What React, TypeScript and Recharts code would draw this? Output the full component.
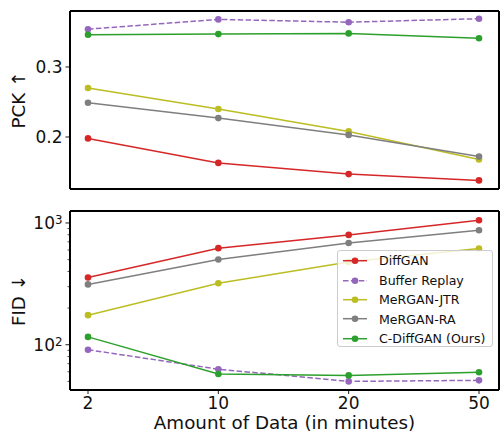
import React from 'react';
import { LineChart, Line, XAxis, YAxis, Legend } from 'recharts';

const minutes = ['2', '10', '20', '50'];

// PCK (top panel)
const pckDiffGAN = [0.198, 0.163, 0.147, 0.138];
const pckBuffer = [0.354, 0.368, 0.364, 0.369];
const pckJTR = [0.27, 0.24, 0.208, 0.168];
const pckRA = [0.249, 0.227, 0.203, 0.172];
const pckOurs = [0.346, 0.347, 0.348, 0.341];

// FID (bottom panel, log scale)
const fidDiffGAN = [357, 621, 798, 1052];
const fidBuffer = [91, 63, 50, 51];
const fidJTR = [175, 320, 478, 617];
const fidRA = [313, 501, 685, 872];
const fidOurs = [116, 57.5, 56, 59.4];

const pckTicks = [0.2, 0.3];
const fidMajorTicks = [100, 1000];
const fidMinorTicks = [50, 60, 70, 80, 90, 200, 300, 400, 500, 600, 700, 800, 900];

const FONT = '"DejaVu Sans", sans-serif';
const TEXT = '#111';
const TICK_FS = 17;
const LABEL_FS = 18.3;
const frame = { stroke: '#000', strokeWidth: 2 };

const series = [
  { key: 'diffgan', name: 'DiffGAN', color: '#d62728', dash: undefined },
  { key: 'buffer', name: 'Buffer Replay', color: '#9467bd', dash: '5.5 2.4' },
  { key: 'jtr', name: 'MeRGAN-JTR', color: '#bcbd22', dash: undefined },
  { key: 'ra', name: 'MeRGAN-RA', color: '#7f7f7f', dash: undefined },
  { key: 'ours', name: 'C-DiffGAN (Ours)', color: '#2ca02c', dash: undefined },
];

const pckData = minutes.map((m, i) => ({
  minutes: m,
  diffgan: pckDiffGAN[i],
  buffer: pckBuffer[i],
  jtr: pckJTR[i],
  ra: pckRA[i],
  ours: pckOurs[i],
}));

const fidData = minutes.map((m, i) => ({
  minutes: m,
  diffgan: fidDiffGAN[i],
  buffer: fidBuffer[i],
  jtr: fidJTR[i],
  ra: fidRA[i],
  ours: fidOurs[i],
}));

const PckTick = (props: any) => {
  const { x, y, payload } = props;
  return (
    <g>
      <line x1={x - 4.5} x2={x} y1={y} y2={y} stroke="#000" strokeWidth={0.9} />
      <text x={x - 7.5} y={y} dy="0.36em" textAnchor="end" fontSize={TICK_FS} fontFamily={FONT} fill={TEXT}>
        {payload.value.toFixed(1)}
      </text>
    </g>
  );
};

const FidTick = (props: any) => {
  const { x, y, payload } = props;
  const v = payload.value;
  if (!fidMajorTicks.includes(v)) {
    return <line x1={x - 2.5} x2={x} y1={y} y2={y} stroke="#000" strokeWidth={0.7} />;
  }
  const exp = Math.round(Math.log10(v));
  return (
    <g>
      <line x1={x - 4.5} x2={x} y1={y} y2={y} stroke="#000" strokeWidth={0.9} />
      <text x={x - 7.5} y={y} dy="0.36em" textAnchor="end" fontSize={TICK_FS} fontFamily={FONT} fill={TEXT}>
        10
        <tspan dy="-0.45em" fontSize={11.8}>{exp}</tspan>
      </text>
    </g>
  );
};

const YTitle = (props: any) => {
  const { viewBox, text } = props;
  const x = viewBox.x + 24.5;
  const y = viewBox.y + viewBox.height / 2;
  return (
    <text x={x} y={y} transform={`rotate(-90, ${x}, ${y})`} textAnchor="middle" fontSize={LABEL_FS} fontFamily={FONT} fill={TEXT}>
      {text}
    </text>
  );
};

const XTitle = (props: any) => {
  const { viewBox, text } = props;
  return (
    <text x={viewBox.x + viewBox.width / 2} y={viewBox.y + 38.5} textAnchor="middle" fontSize={LABEL_FS} fontFamily={FONT} fill={TEXT}>
      {text}
    </text>
  );
};

const LegendBox = (props: any) => {
  const payload = [...(props.payload || [])].sort(
    (a: any, b: any) => series.findIndex((s) => s.name === a.value) - series.findIndex((s) => s.name === b.value)
  );
  return (
    <div
      style={{
        boxSizing: 'border-box',
        width: 156,
        height: 97,
        border: '1px solid #ccc',
        borderRadius: 3,
        background: 'rgba(255,255,255,0.8)',
        paddingTop: 0.3,
      }}
    >
      {payload.map((item: any) => {
        const s = series.find((d) => d.name === item.value);
        return (
          <div key={item.value} style={{ display: 'flex', alignItems: 'center', height: 19.4 }}>
            <svg width={41} height={19.4} style={{ flex: 'none' }}>
              <line x1={5} x2={29} y1={9.7} y2={9.7} stroke={item.color} strokeWidth={1.5} strokeDasharray={s?.dash} />
              <circle cx={17} cy={9.7} r={3.3} fill={item.color} />
            </svg>
            <span style={{ fontFamily: FONT, fontSize: 12.6, color: TEXT, whiteSpace: 'nowrap' }}>{item.value}</span>
          </div>
        );
      })}
    </div>
  );
};

const renderLines = () =>
  series.map((s) => (
    <Line
      key={s.key}
      dataKey={s.key}
      name={s.name}
      stroke={s.color}
      strokeWidth={1.5}
      strokeDasharray={s.dash}
      dot={{ r: 3.3, fill: s.color, stroke: s.color, strokeWidth: 0 }}
      activeDot={false}
      isAnimationActive={false}
    />
  ));

export default function App() {
  return (
    <div style={{ position: 'absolute', left: 0, top: 0, width: 500, height: 433, background: '#fff' }}>
      <LineChart width={500} height={200} data={pckData} margin={{ top: 10, right: 0, bottom: 0, left: 0 }}>
        <XAxis dataKey="minutes" padding={{ left: 18, right: 20 }} tick={false} tickLine={false} height={11} axisLine={frame} />
        <XAxis xAxisId="top" orientation="top" dataKey="minutes" tick={false} tickLine={false} height={1} axisLine={frame} />
        <YAxis
          type="number"
          width={70}
          domain={[0.1257, 0.38]}
          allowDataOverflow
          ticks={pckTicks}
          tick={<PckTick />}
          tickLine={false}
          tickSize={0}
          tickMargin={0}
          axisLine={frame}
          label={<YTitle text="PCK ↑" />}
        />
        <YAxis yAxisId="right" orientation="right" width={1} tick={false} tickLine={false} axisLine={frame} />
        {renderLines()}
      </LineChart>
      <LineChart width={500} height={233} data={fidData} margin={{ top: 10, right: 0, bottom: 0, left: 0 }}>
        <XAxis
          dataKey="minutes"
          padding={{ left: 18, right: 20 }}
          height={43}
          axisLine={frame}
          tickLine={{ stroke: '#000', strokeWidth: 0.9 }}
          tickSize={4}
          tickMargin={3}
          tick={{ fontSize: TICK_FS, fontFamily: FONT, fill: TEXT }}
          label={<XTitle text="Amount of Data (in minutes)" />}
        />
        <XAxis xAxisId="top" orientation="top" dataKey="minutes" tick={false} tickLine={false} height={1} axisLine={frame} />
        <YAxis
          type="number"
          scale="log"
          width={70}
          domain={[42.5, 1254]}
          allowDataOverflow
          ticks={[...fidMinorTicks, ...fidMajorTicks]}
          interval={0}
          tick={<FidTick />}
          tickLine={false}
          tickSize={0}
          tickMargin={0}
          axisLine={frame}
          label={<YTitle text="FID ↓" />}
        />
        <YAxis yAxisId="right" orientation="right" width={1} tick={false} tickLine={false} axisLine={frame} />
        {renderLines()}
        <Legend
          layout="horizontal"
          verticalAlign="middle"
          align="center"
          content={<LegendBox />}
          wrapperStyle={{ left: 337, top: 50, width: 156, height: 97 }}
        />
      </LineChart>
    </div>
  );
}
